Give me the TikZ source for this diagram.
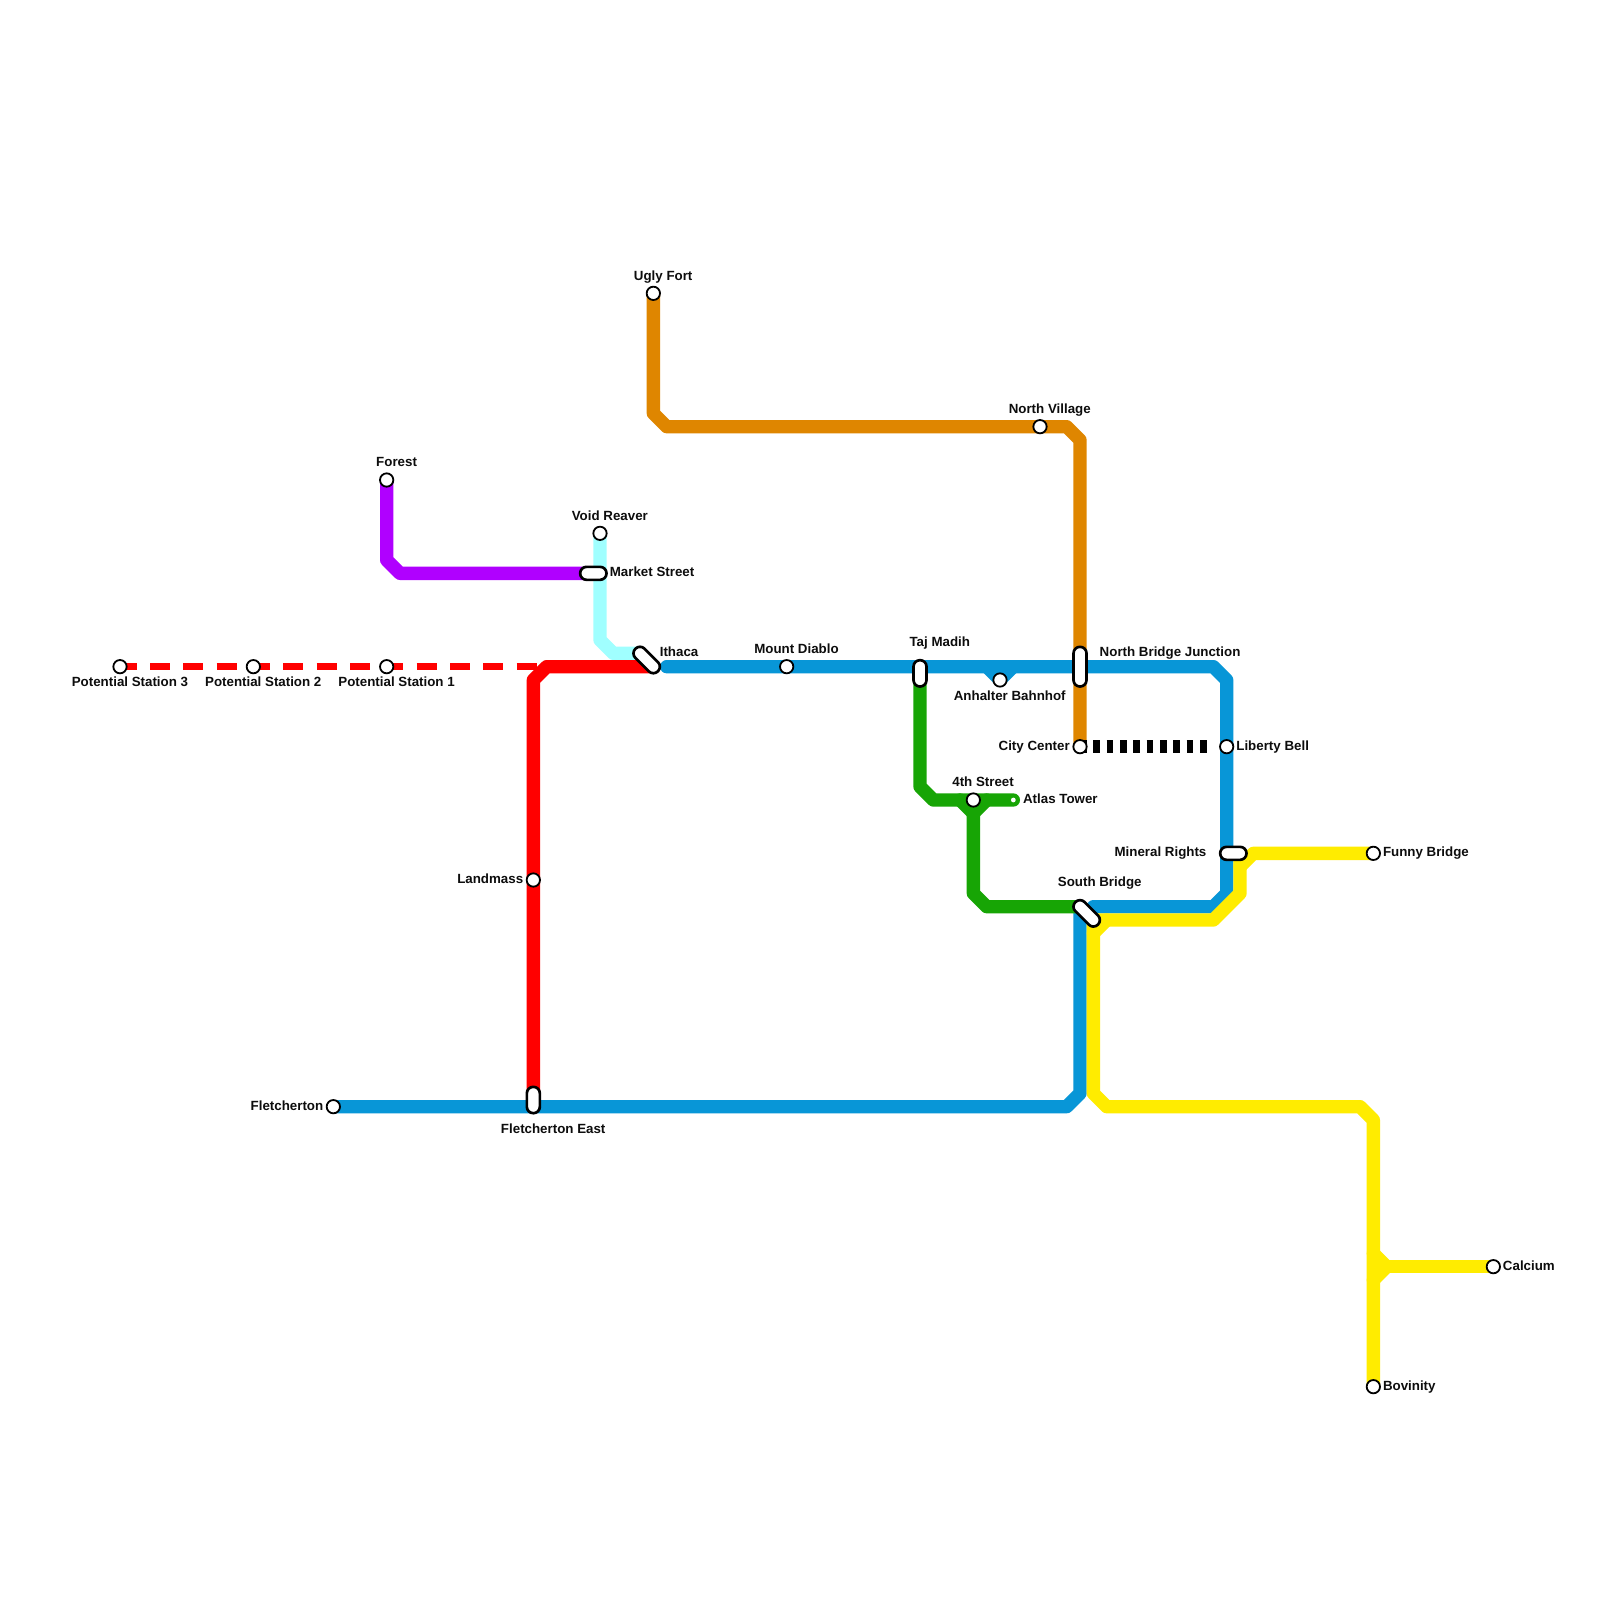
\documentclass[tikz,border=0pt]{standalone}
\usepackage{fontspec}
\setmainfont{Liberation Sans}
\usetikzlibrary{backgrounds}
\definecolor{cblue}{HTML}{0896D7}
\definecolor{corange}{HTML}{DF8600}
\definecolor{cgreen}{HTML}{17A505}
\definecolor{cyellow}{HTML}{FFEC00}
\definecolor{cpurple}{HTML}{B000FF}
\definecolor{caqua}{HTML}{A0FFFF}
\definecolor{cred}{HTML}{FF0000}
\tikzset{
  metro/.style={line width=0.3333cm,line cap=round,line join=round},
  stationdot/.style={circle,draw=black,fill=white,line width=0.045cm,minimum size=0.3333cm,inner sep=0pt,outer sep=0pt},
  pillbox/.style={rectangle,draw=black,fill=white,line width=0.0667cm,line join=round,rounded corners=0.16cm,minimum width=0.325cm,minimum height=0.325cm,inner sep=0pt,outer sep=0pt},
  pillv/.style={pillbox,minimum height=#1},
  pillh/.style={pillbox,minimum width=#1},
  pilld/.style={pillbox,minimum width=#1,rotate=-45},
  atlasdot/.style={circle,fill=white,minimum size=0.12cm,inner sep=0pt,outer sep=0pt},
  lab/.style={font=\fontsize{9.48pt}{11pt}\selectfont\bfseries,text=black!95,inner sep=0pt,outer sep=0pt},
}
\newcommand{\lbl}[5]{\node[lab,anchor=#2] (#1) at ({#3*0.025cm},{-(#4+0.4)*0.025cm}) {#5};}
\begin{document}
\begin{tikzpicture}[x=0.33333cm,y=-0.33333cm]
\useasboundingbox (0,0) rectangle (120,120);
% stations
\node[stationdot] (ps3) at (9,50) {};
\node[stationdot] (ps2) at (19,50) {};
\node[stationdot] (ps1) at (29,50) {};
\node[stationdot] (forest) at (29,36) {};
\node[stationdot] (voidr) at (45,40) {};
\node[stationdot] (ugly) at (49,22) {};
\node[stationdot] (village) at (78,32) {};
\node[stationdot] (diablo) at (59,50) {};
\node[stationdot] (anhalter) at (75,51) {};
\node[stationdot] (city) at (81,56) {};
\node[stationdot] (liberty) at (92,56) {};
\node[stationdot] (fourth) at (73,60) {};
\node[stationdot] (funny) at (103,64) {};
\node[stationdot] (calcium) at (112,95) {};
\node[stationdot] (bovinity) at (103,104) {};
\node[stationdot] (landmass) at (40,66) {};
\node[stationdot] (fletch) at (25,83) {};
\node[atlasdot] (atlas) at (76,60) {};
% interchanges
\node[pillh=0.6583cm] (market) at (44.5,43) {};
\node[pilld=0.7967cm] (ithaca) at (48.5,49.5) {};
\node[pillv=0.6583cm] (taj) at (69,50.5) {};
\node[pillv=0.9917cm] (northb) at (81,50) {};
\node[pillh=0.6583cm] (mineral) at (92.5,64) {};
\node[pilld=0.7967cm] (southb) at (81.5,68.5) {};
\node[pillv=0.6583cm] (fleast) at (40,82.5) {};
% free ends
\coordinate (redend) at (40.25,50);
\coordinate (blackend) at (90.5,56);
\coordinate (marketW) at (44,43);
\coordinate (ithacaA) at (48,49);
\coordinate (ithacaB) at (49,50);
\coordinate (blueE) at (50,50);
\coordinate (southA) at (81,68);
\coordinate (southB) at (82,69);
\coordinate (mineralE) at (93,64);
% lines
\begin{scope}[on background layer]
\fill[white] (0,0) rectangle (120,120);
\draw[cred,line width=0.16667cm,dash pattern=on 14.226pt off 9.484pt,dash phase=2.371pt] (ps3.center) -- (redend);
\draw[metro,cpurple] (forest.center) -- (29,42) -- (30,43) -- (marketW);
\draw[metro,caqua] (voidr.center) -- (45,48) -- (46,49) -- (ithacaA);
\draw[metro,cred] (ithacaB) -- (41,50) -- (40,51) -- (landmass.center) -- (fleast.center);
\draw[metro,cblue] (fletch.center) -- (80,83) -- (81,82) -- (southA);
\draw[metro,cblue] (blueE) -- (91,50) -- (92,51) -- (92,67) -- (91,68) -- (82,68);
\draw[metro,cblue] (74,50) -- (anhalter.center) -- (76,50);
\draw[metro,corange] (ugly.center) -- (49,31) -- (50,32) -- (80,32) -- (81,33) -- (city.center);
\draw[metro,cgreen] (taj.center) -- (69,59) -- (70,60) -- (atlas.center);
\draw[metro,cgreen] (72,60) -- (73,61) -- (74,60);
\draw[metro,cgreen] (fourth.center) -- (73,67) -- (74,68) -- (southA);
\draw[metro,cyellow] (mineralE) -- (93,67) -- (91,69) -- (southB) -- (82,82) -- (83,83) -- (102,83) -- (103,84) -- (bovinity.center);
\draw[metro,cyellow] (83,69) -- (82,70);
\draw[metro,cyellow] (93,65) -- (94,64) -- (funny.center);
\draw[metro,cyellow] (103,94) -- (104,95) -- (103,96);
\draw[metro,cyellow] (104,95) -- (calcium.center);
\draw[black,line width=0.3333cm,dash pattern=on 4.742pt off 4.742pt] (city.center) -- (blackend);
\end{scope}
% labels
\lbl{lps3}{base}{130}{686.67}{Potential Station 3}
\lbl{lps2}{base}{263.33}{686.67}{Potential Station 2}
\lbl{lps1}{base}{396.67}{686.67}{Potential Station 1}
\lbl{lforest}{base}{396.67}{466.67}{Forest}
\lbl{lvoid}{base}{610}{520}{Void Reaver}
\lbl{lmarket}{base west}{610}{576.67}{Market Street}
\lbl{lithaca}{base west}{660}{656.67}{Ithaca}
\lbl{lugly}{base}{663.33}{280}{Ugly Fort}
\lbl{lvillage}{base}{1050}{413.33}{North Village}
\lbl{ldiablo}{base}{796.67}{653.33}{Mount Diablo}
\lbl{ltaj}{base}{940}{646.67}{Taj Madih}
\lbl{lnorthb}{base west}{1100}{656.67}{North Bridge Junction}
\lbl{lanhalter}{base}{1010}{700}{Anhalter Bahnhof}
\lbl{lcity}{base east}{1070}{750}{City Center}
\lbl{lliberty}{base west}{1236.67}{750}{Liberty Bell}
\lbl{lfourth}{base}{983.33}{786.67}{4th Street}
\lbl{latlas}{base west}{1023.33}{803.33}{Atlas Tower}
\lbl{lmineral}{base east}{1206.67}{856.67}{Mineral Rights}
\lbl{lsouth}{base}{1100}{886.67}{South Bridge}
\lbl{lfunny}{base west}{1383.33}{856.67}{Funny Bridge}
\lbl{lcalcium}{base west}{1503.33}{1270}{Calcium}
\lbl{lbovinity}{base west}{1383.33}{1390}{Bovinity}
\lbl{llandmass}{base east}{523.33}{883.33}{Landmass}
\lbl{lfletch}{base east}{323.33}{1110}{Fletcherton}
\lbl{lfleast}{base}{553.33}{1133.33}{Fletcherton East}
\end{tikzpicture}
\end{document}
